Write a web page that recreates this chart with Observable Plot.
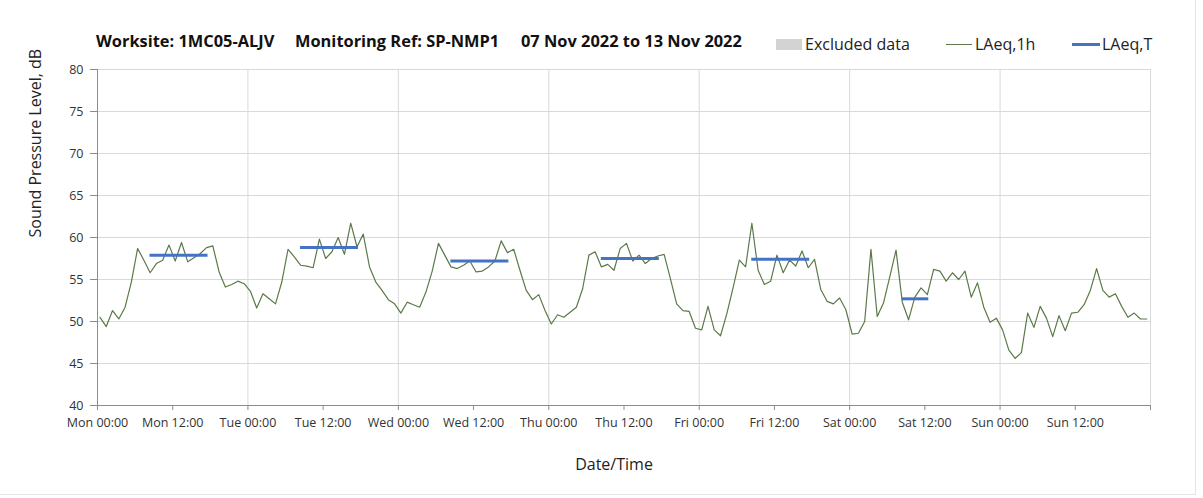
<!DOCTYPE html>
<html>
<head>
<meta charset="utf-8">
<script src="https://cdn.jsdelivr.net/npm/d3@7"></script>
<script src="https://cdn.jsdelivr.net/npm/@observablehq/plot@0.6"></script>
<style>
  html, body { margin: 0; padding: 0; background: #fff; }
  #wrap { position: relative; width: 1203px; height: 498px; font-family: "Open Sans", sans-serif; }
  #chart { position: absolute; left: 0; top: 0; }
  .title { position: absolute; top: 29px; font-weight: bold; font-size: 16.4px; color: #111; white-space: nowrap; }
  .leg { position: absolute; top: 33px; font-size: 16px; color: #222; white-space: nowrap; }
  .sw { position: absolute; }
  #frameBox { position: absolute; left: 0; top: 0; width: 1195px; height: 494px; border-right: 1px solid #e4e4e4; border-bottom: 1px solid #e4e4e4; pointer-events: none; }
</style>
</head>
<body>
<div id="wrap">
  <div id="chart"></div>
  <div class="title" style="left:96px">Worksite: 1MC05-ALJV</div>
  <div class="title" style="left:295px">Monitoring Ref: SP-NMP1</div>
  <div class="title" style="left:521px">07 Nov 2022 to 13 Nov 2022</div>
  <div class="sw" style="left:776px; top:39px; width:26px; height:11px; background:#d3d3d3"></div>
  <div class="leg" style="left:805px">Excluded data</div>
  <div class="sw" style="left:946px; top:44px; width:26px; height:1.3px; background:#5b7a48"></div>
  <div class="leg" style="left:975px">LAeq,1h</div>
  <div class="sw" style="left:1072px; top:43px; width:28px; height:3px; background:#4472C4"></div>
  <div class="leg" style="left:1102px">LAeq,T</div>
  <div id="frameBox"></div>
</div>
<script>
// Day names and tick labels
const dayNames = ["Mon", "Tue", "Wed", "Thu", "Fri", "Sat", "Sun"];
const tickTimes = ["00:00", "12:00"];

// Hourly LAeq,1h values (dB) for each day, hours 00..23
const mon = [50.5, 49.4, 51.3, 50.3, 51.7, 54.7, 58.7, 57.3, 55.8, 56.9, 57.3, 59.1, 57.2, 59.4, 57.1, 57.6, 58.1, 58.8, 59.0, 55.9, 54.1, 54.4, 54.8, 54.5];
const tue = [53.6, 51.6, 53.3, 52.7, 52.1, 54.7, 58.6, 57.7, 56.7, 56.6, 56.4, 59.8, 57.5, 58.3, 60.0, 58.0, 61.7, 58.9, 60.4, 56.5, 54.7, 53.7, 52.6, 52.1];
const wed = [51.0, 52.3, 52.0, 51.7, 53.5, 56.0, 59.3, 57.9, 56.5, 56.3, 56.7, 57.2, 55.9, 56.0, 56.5, 57.2, 59.6, 58.2, 58.6, 56.1, 53.7, 52.6, 53.2, 51.3];
const thu = [49.7, 50.8, 50.5, 51.1, 51.7, 53.9, 57.9, 58.3, 56.5, 56.8, 56.1, 58.7, 59.3, 57.2, 57.9, 56.9, 57.5, 57.8, 58.0, 55.1, 52.1, 51.3, 51.2, 49.2];
const fri = [49.0, 51.8, 49.0, 48.3, 50.9, 54.0, 57.3, 56.5, 61.7, 56.1, 54.4, 54.8, 57.9, 55.8, 57.3, 56.6, 58.4, 56.4, 57.4, 53.8, 52.4, 52.1, 52.8, 51.4];
const sat = [48.5, 48.6, 50.0, 58.6, 50.6, 52.2, 55.3, 58.5, 52.3, 50.2, 52.9, 54.0, 53.2, 56.2, 56.0, 54.8, 55.8, 55.0, 56.0, 52.9, 54.6, 51.7, 49.9, 50.4];
const sun = [49.0, 46.6, 45.6, 46.3, 51.0, 49.3, 51.8, 50.4, 48.2, 50.7, 48.9, 51.0, 51.1, 52.0, 53.7, 56.3, 53.7, 52.9, 53.3, 51.8, 50.5, 51.0, 50.3, 50.3];

// LAeq,T period values (dB), with period start/end hours of the day
const laeqTDays  = [0, 1, 2, 3, 4, 5];
const laeqTStart = [8, 8, 8, 8, 8, 8];
const laeqTEnd   = [18, 18, 18, 18, 18, 13];
const laeqTValue = [57.9, 58.8, 57.2, 57.5, 57.4, 52.7];

// Build tables
const days = [mon, tue, wed, thu, fri, sat, sun];
const hourly = days.flatMap((vals, d) => vals.map((v, h) => ({t: d * 24 + h + 0.4, v})));
const periods = laeqTDays.map((d, i) => ({
  x1: d * 24 + laeqTStart[i] + 0.3,
  x2: d * 24 + laeqTEnd[i] - 0.45,
  v: laeqTValue[i]
}));

const xTicks = d3.range(0, 169, 12);
const fmt = (h) => h >= 168 ? "" : `${dayNames[Math.floor(h / 24)]} ${tickTimes[(h % 24) / 12]}`;

const chart = Plot.plot({
  width: 1203,
  height: 498,
  marginTop: 69,
  marginLeft: 97,
  marginRight: 53,
  marginBottom: 93,
  style: {fontFamily: "Open Sans, sans-serif", fontSize: "12.5px", color: "#333", background: "transparent"},
  x: {domain: [0, 168]},
  y: {domain: [40, 80]},
  marks: [
    Plot.gridY(d3.range(45, 81, 5), {stroke: "#d9d9d9", strokeOpacity: 1}),
    Plot.gridX(d3.range(24, 169, 24), {stroke: "#d9d9d9", strokeOpacity: 1}),
    Plot.axisX({ticks: xTicks, tickFormat: fmt, tickSize: 5, tickPadding: 8, stroke: "#8c8c8c", label: null, fontSize: 12.5}),
    Plot.axisY({ticks: d3.range(40, 81, 5), tickSize: 7, tickPadding: 7, stroke: "#8c8c8c", label: null, fontSize: 12.5}),
    Plot.ruleY([40], {stroke: "#8c8c8c"}),
    Plot.ruleX([0], {stroke: "#8c8c8c"}),
    Plot.line(hourly, {x: "t", y: "v", stroke: "#5b7a48", strokeWidth: 1.2}),
    Plot.link(periods, {x1: "x1", x2: "x2", y1: "v", y2: "v", stroke: "#4472C4", strokeWidth: 3}),
    Plot.text(["Sound Pressure Level, dB"], {frameAnchor: "left", dx: -62, rotate: -90, fontSize: 16, fill: "#222"}),
    Plot.text(["Date/Time"], {frameAnchor: "bottom", dy: 64, dx: -10, fontSize: 16, fill: "#222"})
  ]
});
document.getElementById("chart").appendChild(chart);
</script>
</body>
</html>
